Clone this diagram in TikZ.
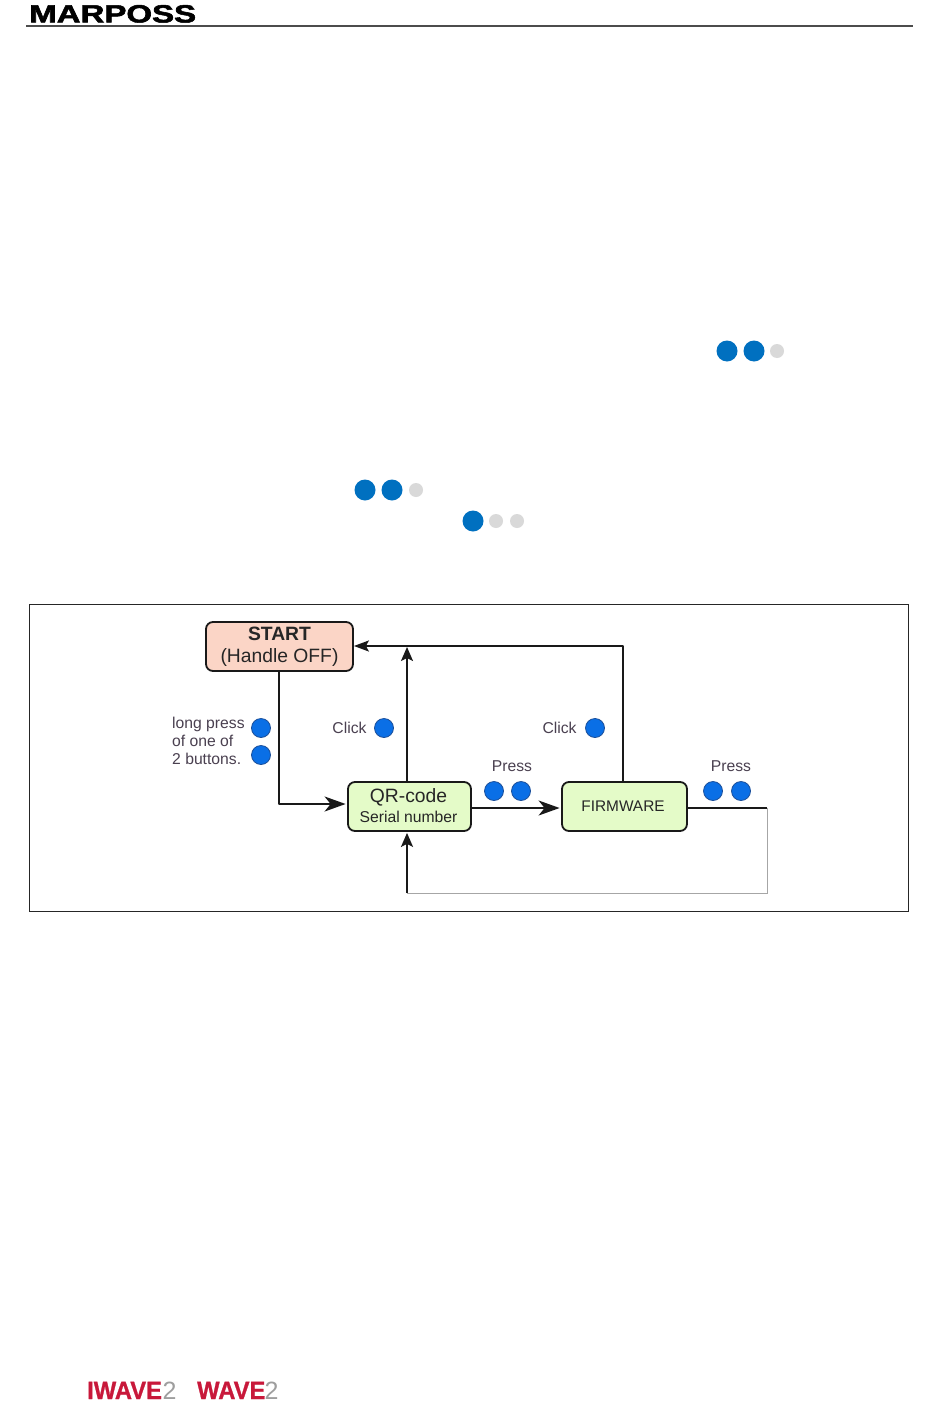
\documentclass[tikz,border=0pt]{standalone}
\usepackage{fontspec}
\setmainfont{Liberation Sans}
\newfontfamily\logofont[FakeBold=2]{Liberation Sans Bold}
\newfontfamily\brandfont[FakeBold=1]{Liberation Sans Bold}
\usetikzlibrary{arrows.meta}
\definecolor{startfill}{HTML}{FBD5C6}
\definecolor{greenfill}{HTML}{E4FBC8}
\definecolor{dotblue}{HTML}{0A6FE6}
\definecolor{dotedge}{HTML}{1B4F9A}
\definecolor{pageblue}{HTML}{0070C0}
\definecolor{pagegray}{HTML}{D9D9D9}
\definecolor{lbl}{HTML}{4A4050}
\definecolor{logored}{HTML}{C8183A}
\tikzset{
  x=1pt,y=-1pt,
  box/.style={draw=black!90,line width=1.8pt,rounded corners=7pt,inner sep=0pt,align=center,text=black!85,font=\fontsize{19.3}{22}\selectfont},
  dot/.style={circle,fill=dotblue,draw=dotedge,line width=0.8pt,minimum size=19pt,inner sep=0pt},
  pbig/.style={circle,fill=pageblue,minimum size=21pt,inner sep=0pt},
  psmall/.style={circle,fill=pagegray,minimum size=14pt,inner sep=0pt},
  lab/.style={text=lbl,inner sep=0pt,font=\fontsize{15.7}{18}\selectfont},
  conn/.style={line width=1.9pt,draw=black!90,line join=round},
  thin gray/.style={line width=1pt,draw=black!35},
  bighead/.style={-{Stealth[length=21pt,width=15pt,inset=6pt]},shorten >=1.5pt},
  uphead/.style={-{Stealth[length=14pt,width=12pt,inset=3pt]}},
  starthead/.style={-{Stealth[length=15pt,width=11pt,inset=3pt]}},
}
\begin{document}
\begin{tikzpicture}
\useasboundingbox (0,0) rectangle (950,1402);
\fill[white] (0,0) rectangle (950,1402);

% header
\node[inner sep=0pt,anchor=base west,xscale=1.32,text=black,font=\fontsize{25}{28}\logofont] (logo) at (29,22.5) {MARPOSS};
\coordinate (ruleL) at (26,26);
\coordinate (ruleR) at (913,26);
\draw[line width=1.4pt,draw=black!70] (ruleL) -- (ruleR);

% LED indicators on the page
\node[pbig] (a1) at (727,351) {};
\node[pbig] (a2) at (754,351) {};
\node[psmall] (a3) at (777,351) {};
\node[pbig] (b1) at (365,490) {};
\node[pbig] (b2) at (392,490) {};
\node[psmall] (b3) at (416,490) {};
\node[pbig] (c1) at (473,521) {};
\node[psmall] (c2) at (496,521) {};
\node[psmall] (c3) at (517,521) {};

% frame
\node[draw=black!85,line width=1pt,minimum width=879pt,minimum height=307pt,inner sep=0pt] (frame) at (468.5,757.5) {};

% boxes
\node[box,fill=startfill,minimum width=147pt,minimum height=49pt] (start) at (279.5,646.5) {\textbf{START}\\(Handle OFF)};
\node[box,fill=greenfill,minimum width=123pt,minimum height=49pt] (qr) at (409.5,806.5) {\raisebox{1.5pt}{QR-code\hspace{2pt}}\\[-2pt]\raisebox{1.5pt}{\fontsize{15.7}{18}\selectfont Serial number\hspace{2pt}}};
\node[box,fill=greenfill,minimum width=125pt,minimum height=49pt,font=\fontsize{15.4}{18}\selectfont] (fw) at (624.5,806.5) {FIRMWARE\hspace{3pt}};

% connector way-points
\coordinate (c1a) at (279,804);
\coordinate (cTop) at (623,646);
\coordinate (cOut) at (767,808);
\coordinate (cLow) at (767,893);
\coordinate (cRet) at (407,893);
\coordinate (qrTop) at (407,647);

% connectors
\draw[conn,bighead] ([xshift=-0.5pt]start.south) -- (c1a) -- (qr.west |- c1a);
\draw[conn,starthead] ([xshift=-1.5pt]fw.north) -- (cTop) -- (start.east |- cTop);
\draw[conn,uphead] ([xshift=-2.5pt]qr.north) -- (qrTop);
\draw[conn,bighead] ([yshift=-1.5pt]qr.east) -- ([yshift=-1.5pt]fw.west);
\draw[conn] ([yshift=-1.5pt]fw.east) -- (cOut);
\draw[thin gray] (cOut) -- (cLow) -- (cRet);
\draw[conn,uphead,shorten >=1pt] (cRet) -- ([xshift=-2.5pt]qr.south);

% labels and button dots
\node[lab,align=left,anchor=north west,font=\fontsize{15.7}{18}\selectfont] (lp) at (172,717) {long press\\of one of\\2 buttons.};
\node[dot] (d1) at (261,728) {};
\node[dot] (d2) at (261,755) {};
\node[lab] (ck1) at (349.5,727.5) {Click};
\node[dot] (d3) at (384,728) {};
\node[lab] (ck2) at (559.5,727.5) {Click};
\node[dot] (d4) at (595,728) {};
\node[lab] (pr1) at (512,766) {Press};
\node[dot] (d5) at (494,791) {};
\node[dot] (d6) at (521,791) {};
\node[lab] (pr2) at (731,766) {Press};
\node[dot] (d7) at (713,791) {};
\node[dot] (d8) at (741,791) {};

% footer logos
\node[inner sep=0pt,anchor=base west,xscale=0.95,text=logored,font=\fontsize{25}{28}\brandfont] (iw) at (87,1399) {IWAVE};
\node[inner sep=0pt,anchor=base west,text=black!38,font=\fontsize{25}{28}\selectfont] (iw2) at (162.5,1399) {2};
\node[inner sep=0pt,anchor=base west,xscale=0.95,text=logored,font=\fontsize{25}{28}\brandfont] (wv) at (197,1399) {WAVE};
\node[inner sep=0pt,anchor=base west,text=black!38,font=\fontsize{25}{28}\selectfont] (wv2) at (264.5,1399) {2};
\end{tikzpicture}
\end{document}
